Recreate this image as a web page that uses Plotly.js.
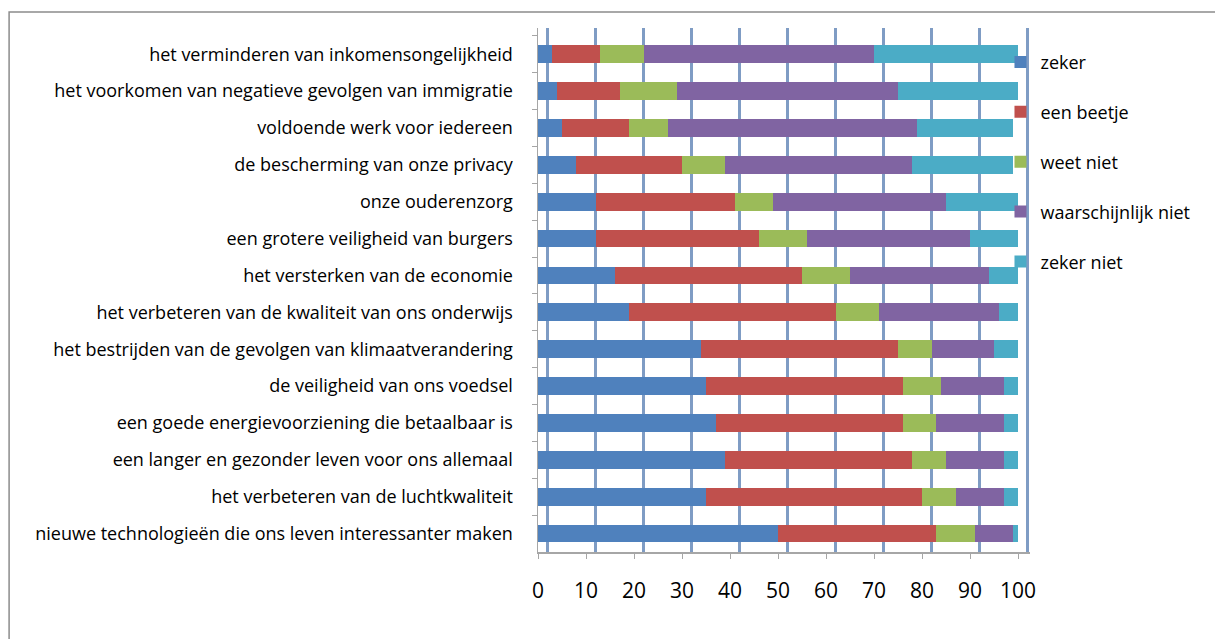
<!DOCTYPE html>
<html>
<head>
<meta charset="utf-8">
<script src="https://cdn.plot.ly/plotly-3.0.1.min.js"></script>
<style>html,body{margin:0;padding:0;background:#fff;}#chart{width:1215px;height:639px;}</style>
</head>
<body>
<div id="chart"></div>
<script>
// categories, top to bottom as shown
var categories = [
  "het verminderen van inkomensongelijkheid",
  "het voorkomen van negatieve gevolgen van immigratie",
  "voldoende werk voor iedereen",
  "de bescherming van onze privacy",
  "onze ouderenzorg",
  "een grotere veiligheid van burgers",
  "het versterken van de economie",
  "het verbeteren van de kwaliteit van ons onderwijs",
  "het bestrijden van de gevolgen van klimaatverandering",
  "de veiligheid van ons voedsel",
  "een goede energievoorziening die betaalbaar is",
  "een langer en gezonder leven voor ons allemaal",
  "het verbeteren van de luchtkwaliteit",
  "nieuwe technologieën die ons leven interessanter maken"
];
var seriesNames = ["zeker", "een beetje", "weet niet", "waarschijnlijk niet", "zeker niet"];
var zeker              = [3, 4, 5, 8, 12, 12, 16, 19, 34, 35, 37, 39, 35, 50];
var eenBeetje          = [10, 13, 14, 22, 29, 34, 39, 43, 41, 41, 39, 39, 45, 33];
var weetNiet           = [9, 12, 8, 9, 8, 10, 10, 9, 7, 8, 7, 7, 7, 8];
var waarschijnlijkNiet = [48, 46, 52, 39, 36, 34, 29, 25, 13, 13, 14, 12, 10, 8];
var zekerNiet          = [30, 25, 20, 21, 15, 10, 6, 4, 5, 3, 3, 3, 3, 1];
var tickValues = [0, 10, 20, 30, 40, 50, 60, 70, 80, 90, 100];
var colors = ["#4F81BD", "#C0504D", "#9BBB59", "#8064A2", "#4BACC6"];

var seriesValues = [zeker, eenBeetje, weetNiet, waarschijnlijkNiet, zekerNiet];
var traces = seriesValues.map(function (vals, i) {
  return {
    type: "bar",
    orientation: "h",
    name: seriesNames[i],
    legendgroup: "g" + i,
    x: vals,
    y: categories,
    marker: {color: colors[i], line: {width: 0}},
    hoverinfo: "x+y+name"
  };
});

var font = "Open Sans, Liberation Sans, sans-serif";
var layout = {
  width: 1215,
  height: 639,
  paper_bgcolor: "#ffffff",
  plot_bgcolor: "rgba(0,0,0,0)",
  barmode: "stack",
  bargap: 0.52,
  margin: {l: 538, r: 185, t: 28, b: 87, pad: 0},
  font: {family: font, color: "#000000"},
  showlegend: true,
  legend: {
    x: 0.94, xanchor: "left",
    y: 0.97, yanchor: "top",
    traceorder: "grouped",
    tracegroupgap: 23.5,
    font: {family: font, size: 18, color: "#000"},
    itemwidth: 30,
    bgcolor: "rgba(0,0,0,0)"
  },
  xaxis: {
    range: [0, 102.5],
    tickvals: tickValues,
    ticktext: tickValues.map(String),
    showgrid: false,
    zeroline: false,
    showline: true,
    linecolor: "#A6A6A6",
    linewidth: 1.5,
    ticks: "outside",
    ticklen: 5,
    tickcolor: "#A6A6A6",
    ticklabelstandoff: 14,
    tickfont: {family: font, size: 21, color: "#000"},
    fixedrange: true
  },
  xaxis2: {
    overlaying: "x",
    range: [-2, 100.5],
    dtick: 10,
    tick0: 0,
    showgrid: true,
    gridcolor: "#7F9CC4",
    gridwidth: 2.5,
    zeroline: false,
    showticklabels: false,
    ticks: "",
    showline: false
  },
  yaxis: {
    type: "category",
    autorange: "reversed",
    showgrid: false,
    zeroline: false,
    showline: true,
    linecolor: "#A6A6A6",
    linewidth: 1.5,
    ticks: "outside",
    tickson: "boundaries",
    ticklen: 5,
    tickcolor: "#A6A6A6",
    ticklabelstandoff: 20,
    tickfont: {family: font, size: 18, color: "#000"},
    fixedrange: true
  },
  shapes: [
    {type: "rect", xref: "paper", yref: "paper",
     x0: -1.075, x1: 1.45, y0: -0.2, y1: 1.0305,
     line: {color: "#8C8C8C", width: 1.5}, fillcolor: "rgba(0,0,0,0)", layer: "below"}
  ]
};

// invisible trace to activate xaxis2 grid
traces.push({type: "scatter", x: [0], y: [categories[0]], xaxis: "x2", mode: "none", showlegend: false, hoverinfo: "skip"});

Plotly.newPlot("chart", traces, layout, {displayModeBar: false, staticPlot: true});
</script>
</body>
</html>
